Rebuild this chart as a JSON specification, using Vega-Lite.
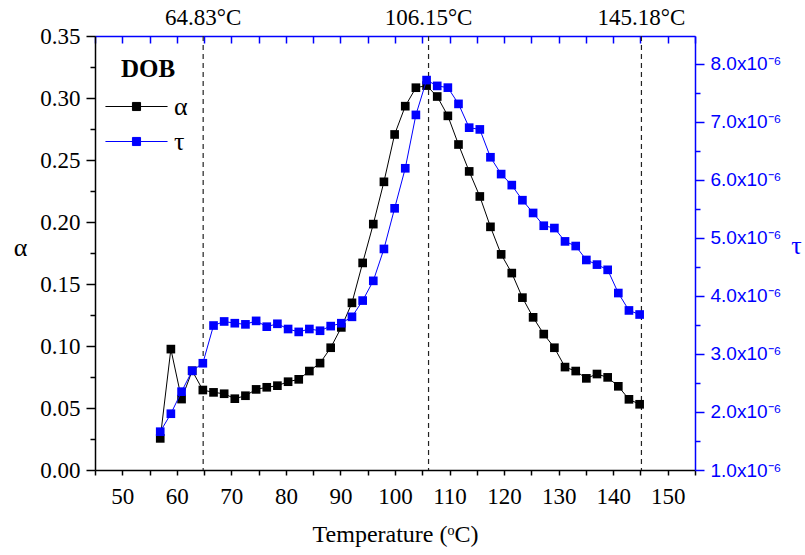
{
  "$schema": "https://vega.github.io/schema/vega-lite/v6.json",
  "width": 600,
  "height": 434,
  "autosize": "none",
  "padding": {"left": 95, "top": 36, "right": 110, "bottom": 85},
  "background": "white",
  "config": {"view": {"stroke": null}, "axis": {"grid": false}},
  "datasets": {
    "series": [
      {"T": 56.96, "alpha": 0.0255, "tau": 1.66e-6},
      {"T": 58.91, "alpha": 0.0975, "tau": 1.97e-6},
      {"T": 60.87, "alpha": 0.0572, "tau": 2.35e-6},
      {"T": 62.82, "alpha": 0.0800, "tau": 2.71e-6},
      {"T": 64.77, "alpha": 0.0645, "tau": 2.84e-6},
      {"T": 66.73, "alpha": 0.0626, "tau": 3.49e-6},
      {"T": 68.68, "alpha": 0.0615, "tau": 3.56e-6},
      {"T": 70.63, "alpha": 0.0575, "tau": 3.53e-6},
      {"T": 72.58, "alpha": 0.0599, "tau": 3.51e-6},
      {"T": 74.54, "alpha": 0.0650, "tau": 3.57e-6},
      {"T": 76.49, "alpha": 0.0667, "tau": 3.47e-6},
      {"T": 78.44, "alpha": 0.0680, "tau": 3.52e-6},
      {"T": 80.40, "alpha": 0.0712, "tau": 3.43e-6},
      {"T": 82.35, "alpha": 0.0731, "tau": 3.38e-6},
      {"T": 84.30, "alpha": 0.0798, "tau": 3.43e-6},
      {"T": 86.26, "alpha": 0.0862, "tau": 3.40e-6},
      {"T": 88.21, "alpha": 0.0986, "tau": 3.48e-6},
      {"T": 90.16, "alpha": 0.1150, "tau": 3.53e-6},
      {"T": 92.11, "alpha": 0.1348, "tau": 3.64e-6},
      {"T": 94.07, "alpha": 0.1670, "tau": 3.92e-6},
      {"T": 96.02, "alpha": 0.1983, "tau": 4.26e-6},
      {"T": 97.97, "alpha": 0.2324, "tau": 4.81e-6},
      {"T": 99.93, "alpha": 0.2706, "tau": 5.51e-6},
      {"T": 101.88, "alpha": 0.2934, "tau": 6.20e-6},
      {"T": 103.83, "alpha": 0.3083, "tau": 7.12e-6},
      {"T": 105.79, "alpha": 0.3100, "tau": 7.72e-6},
      {"T": 107.74, "alpha": 0.3012, "tau": 7.62e-6},
      {"T": 109.69, "alpha": 0.2856, "tau": 7.59e-6},
      {"T": 111.64, "alpha": 0.2625, "tau": 7.31e-6},
      {"T": 113.60, "alpha": 0.2408, "tau": 6.90e-6},
      {"T": 115.55, "alpha": 0.2206, "tau": 6.87e-6},
      {"T": 117.50, "alpha": 0.1961, "tau": 6.39e-6},
      {"T": 119.46, "alpha": 0.1739, "tau": 6.10e-6},
      {"T": 121.41, "alpha": 0.1588, "tau": 5.91e-6},
      {"T": 123.36, "alpha": 0.1390, "tau": 5.65e-6},
      {"T": 125.32, "alpha": 0.1231, "tau": 5.43e-6},
      {"T": 127.27, "alpha": 0.1096, "tau": 5.21e-6},
      {"T": 129.22, "alpha": 0.0986, "tau": 5.17e-6},
      {"T": 131.17, "alpha": 0.0830, "tau": 4.94e-6},
      {"T": 133.13, "alpha": 0.0798, "tau": 4.86e-6},
      {"T": 135.08, "alpha": 0.0739, "tau": 4.62e-6},
      {"T": 137.03, "alpha": 0.0774, "tau": 4.54e-6},
      {"T": 138.99, "alpha": 0.0747, "tau": 4.45e-6},
      {"T": 140.94, "alpha": 0.0675, "tau": 4.05e-6},
      {"T": 142.89, "alpha": 0.0570, "tau": 3.75e-6},
      {"T": 144.85, "alpha": 0.0530, "tau": 3.68e-6}
    ],
    "markers": [
      {"T": 64.83, "label": "64.83°C"},
      {"T": 106.15, "label": "106.15°C"},
      {"T": 145.18, "label": "145.18°C"}
    ]
  },
  "resolve": {"scale": {"y": "independent"}, "axis": {"x": "independent", "y": "independent"}},
  "layer": [
    {
      "data": {"name": "markers"},
      "mark": {"type": "rule", "strokeDash": [5, 4], "color": "#222222", "strokeWidth": 1.2},
      "encoding": {
        "x": {"field": "T", "type": "quantitative", "scale": {"domain": [45, 155], "nice": false, "zero": false}, "axis": null}
      }
    },
    {
      "data": {"name": "markers"},
      "mark": {"type": "text", "font": "Liberation Serif", "fontSize": 23, "dy": -11, "baseline": "alphabetic", "align": "center", "color": "black"},
      "encoding": {
        "x": {"field": "T", "type": "quantitative", "scale": {"domain": [45, 155], "nice": false, "zero": false}, "axis": null},
        "y": {"datum": 0.35, "type": "quantitative", "scale": {"domain": [0, 0.35], "nice": false, "zero": false}, "axis": null},
        "text": {"field": "label"}
      }
    },
    {
      "data": {"name": "series"},
      "mark": {"type": "line", "strokeWidth": 1, "point": {"shape": "square", "size": 75, "filled": true, "opacity": 1}},
      "encoding": {
        "x": {
          "field": "T", "type": "quantitative",
          "scale": {"domain": [45, 155], "nice": false, "zero": false},
          "axis": {
            "orient": "bottom",
            "title": "Temperature (ᵒC)",
            "values": [45, 50, 55, 60, 65, 70, 75, 80, 85, 90, 95, 100, 105, 110, 115, 120, 125, 130, 135, 140, 145, 150, 155],
            "labelExpr": "datum.value % 10 === 0 ? datum.label : ''",
            "labelOverlap": false, "labelFlush": false, "labelBound": false,
            "labelFont": "Liberation Serif", "labelFontSize": 23, "labelColor": "black", "labelPadding": 10,
            "titleFont": "Liberation Serif", "titleFontSize": 24, "titleFontWeight": "normal", "titleColor": "black", "titlePadding": 14,
            "domainColor": "black", "domainWidth": 1.5, "tickColor": "black", "tickWidth": 1.5, "tickSize": 5
          }
        },
        "y": {
          "field": "alpha", "type": "quantitative",
          "scale": {"domain": [0, 0.35], "nice": false, "zero": false},
          "axis": {
            "orient": "left",
            "title": "α", "titleAngle": 0, "titleX": -75, "titleY": 219, "titleAlign": "center", "titleBaseline": "alphabetic",
            "titleFont": "Liberation Serif", "titleFontSize": 26, "titleFontWeight": "normal", "titleColor": "black",
            "values": [0, 0.025, 0.05, 0.075, 0.1, 0.125, 0.15, 0.175, 0.2, 0.225, 0.25, 0.275, 0.3, 0.325, 0.35],
            "labelExpr": "round(datum.value * 1000) % 50 === 0 ? format(datum.value, '.2f') : ''",
            "labelOverlap": false, "labelFlush": false, "labelBound": false,
            "labelFont": "Liberation Serif", "labelFontSize": 23, "labelColor": "black", "labelPadding": 6,
            "domainColor": "black", "domainWidth": 1.5, "tickColor": "black", "tickWidth": 1.5,
            "tickSize": {"condition": {"test": "round(datum.value * 1000) % 50 === 0", "value": 9}, "value": 5}
          }
        },
        "color": {
          "datum": "α", "type": "nominal",
          "scale": {"domain": ["α", "τ"], "range": ["#000000", "#0000ff"]},
          "legend": {
            "title": "DOB", "orient": "none", "legendX": 26, "legendY": 21, "padding": 0,
            "titleFont": "Liberation Serif", "titleFontSize": 25, "titleFontWeight": "bold", "titleColor": "black", "titlePadding": 9,
            "labelFont": "Liberation Serif", "labelFontSize": 26, "labelColor": "black", "labelOffset": 22,
            "symbolType": "M-2.07,0H2.07M-0.27,-0.27H0.27V0.27H-0.27Z", "symbolSize": 900, "symbolStrokeWidth": 1,
            "rowPadding": 6,
            "encode": {"symbols": {"update": {"fill": {"scale": "color", "field": "value"}, "stroke": {"scale": "color", "field": "value"}}}}
          }
        }
      }
    },
    {
      "data": {"name": "series"},
      "mark": {"type": "line", "strokeWidth": 1, "point": {"shape": "square", "size": 75, "filled": true, "opacity": 1}},
      "encoding": {
        "x": {
          "field": "T", "type": "quantitative",
          "scale": {"domain": [45, 155], "nice": false, "zero": false},
          "axis": {
            "orient": "top", "title": null, "labels": false,
            "values": [45, 50, 55, 60, 65, 70, 75, 80, 85, 90, 95, 100, 105, 110, 115, 120, 125, 130, 135, 140, 145, 150, 155],
            "domainColor": "#0000ff", "domainWidth": 1.5, "tickColor": "#0000ff", "tickWidth": 1.5, "tickSize": -7
          }
        },
        "y": {
          "field": "tau", "type": "quantitative",
          "scale": {"domain": [1e-6, 8.48e-6], "nice": false, "zero": false},
          "axis": {
            "orient": "right",
            "title": "τ", "titleAngle": 0, "titleX": 101, "titleY": 217, "titleAlign": "center", "titleBaseline": "alphabetic",
            "titleFont": "Liberation Serif", "titleFontSize": 26, "titleFontWeight": "normal", "titleColor": "#0000ff",
            "values": [1e-6, 1.5e-6, 2e-6, 2.5e-6, 3e-6, 3.5e-6, 4e-6, 4.5e-6, 5e-6, 5.5e-6, 6e-6, 6.5e-6, 7e-6, 7.5e-6, 8e-6],
            "labelExpr": "round(datum.value * 1e7) % 10 === 0 ? format(datum.value * 1e6, '.1f') + 'x10⁻⁶' : ''",
            "labelOverlap": false, "labelFlush": false, "labelBound": false,
            "labelFont": "Liberation Sans", "labelFontSize": 19, "labelColor": "#0000ff", "labelPadding": 6,
            "domainColor": "#0000ff", "domainWidth": 1.5, "tickColor": "#0000ff", "tickWidth": 1.5,
            "tickSize": {"condition": {"test": "round(datum.value * 1e7) % 10 === 0", "value": 9}, "value": 5}
          }
        },
        "color": {
          "datum": "τ", "type": "nominal",
          "scale": {"domain": ["α", "τ"], "range": ["#000000", "#0000ff"]}
        }
      }
    }
  ]
}
